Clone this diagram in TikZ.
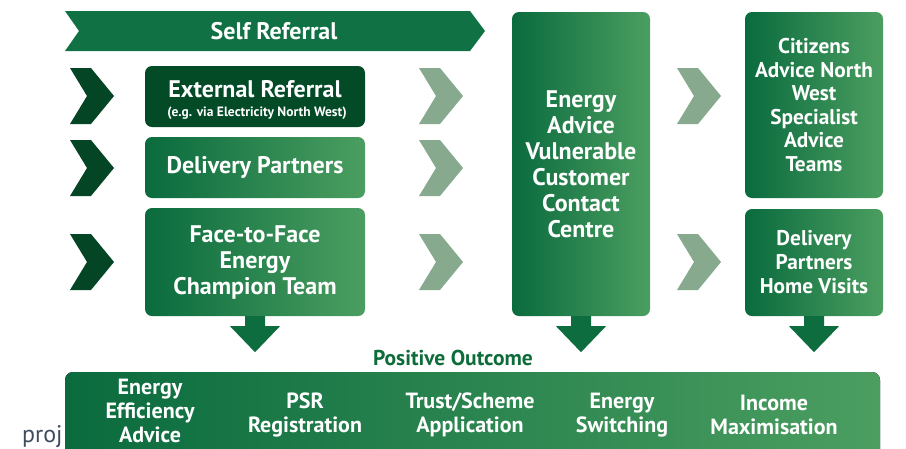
\documentclass[tikz,border=0pt]{standalone}
\usepackage{fontspec}
\setmainfont{PT Sans}
\usetikzlibrary{calc,positioning}

\definecolor{selfgreen}{HTML}{107145}
\definecolor{extgreen}{HTML}{034A26}
\definecolor{chevdark}{HTML}{034524}
\definecolor{chevlight}{HTML}{87A98D}
\definecolor{gleft}{HTML}{0A6B3E}
\definecolor{gright}{HTML}{4B9E60}
\definecolor{arrgreen}{HTML}{0D6D3F}
\definecolor{outgreen}{HTML}{0E6B3A}
\definecolor{projgrey}{HTML}{3E4C5E}

\tikzset{
  box/.style={rounded corners=7, inner sep=0pt, text=white, align=center,
    font=\bfseries\fontsize{24}{26}\selectfont},
  gradbox/.style={box, left color=gleft, right color=gright},
  smalltxt/.style={text=white, inner sep=0pt, font=\bfseries\fontsize{13.5}{15}\selectfont},
  outtxt/.style={text=white, inner sep=0pt, align=center, font=\bfseries\fontsize{22}{24}\selectfont},
  chev/.pic={\fill[#1] (0,-28) -- (21,-28) -- (44,0) -- (21,28) -- (0,28) -- (17,0) -- cycle;},
  downarr/.pic={\fill[arrgreen] (-10,0) -- (10,0) -- (10,10) -- (25,10) -- (0,36) -- (-25,10) -- (-10,10) -- cycle;}
}

\begin{document}
\begin{tikzpicture}[x=1pt,y=-1pt]
	\useasboundingbox (0,0) rectangle (906,448);
	\clip (0,0) rectangle (906,448);
	
	\fill[selfgreen] (65,11) -- (470,11) -- (485,31) -- (470,51) -- (65,51) -- (79,31) -- cycle;
	\node[box] (self) at (274,31) {Self Referral};
	
	\node[box, fill=extgreen, minimum width=220, minimum height=61] (ext) at (255,96.5) {};
	\node[box] (exttxt) at (255,89) {External Referral};
	\node[smalltxt] (extsub) at (257,113) {(e.g. via Electricity North West)};
	\node[gradbox, minimum width=220, minimum height=61] (dp) at (255,167.5) {Delivery Partners};
	\node[gradbox, minimum width=220, minimum height=108] (ftf) at (255,262) {Face-to-Face\\Energy\\Champion Team};
	
	\node[gradbox, minimum width=138, minimum height=304] (cc) at (581,164) {Energy\\Advice\\Vulnerable\\Customer\\Contact\\Centre};
	
	\node[gradbox, minimum width=138, minimum height=186, font=\bfseries\fontsize{21.3}{23.6}\selectfont] (ca) at (814,105) {Citizens\\Advice North\\West\\Specialist\\Advice\\Teams};
	\node[gradbox, minimum width=138, minimum height=107, font=\bfseries\fontsize{21.3}{24}\selectfont] (hv) at (814,262.5) {Delivery\\Partners\\Home Visits};
	
	\foreach \y in {96,168,262}{
		\pic at (70,\y) {chev=chevdark};
		\pic at (419,\y) {chev=chevlight};
	}
	\pic at (677,96) {chev=chevlight};
	\pic at (677,262) {chev=chevlight};
	
	\pic at (ftf.south) {downarr};
	\pic at (cc.south) {downarr};
	\pic at (hv.south) {downarr};
	
	\node[inner sep=0pt, anchor=west, text=projgrey, font=\fontsize{24}{28}\selectfont] (proj) at (22,437) {proj};
	
	\node[text=outgreen, inner sep=0pt, font=\bfseries\fontsize{21.5}{24}\selectfont] (pos) at (453,358) {Positive Outcome};
	\fill[left color=gleft, right color=gright, rounded corners=8] (65,372) rectangle (880,480);
	
	\node[outtxt] (eea) at (150,411) {Energy\\Efficiency\\Advice};
	\node[outtxt] (psr) at (305,415) {PSR\\Registration};
	\node[outtxt] (tsa) at (470,415) {Trust/Scheme\\Application};
	\node[outtxt] (esw) at (622,415) {Energy\\Switching};
	\node[outtxt] (inc) at (774,415) {Income\\Maximisation};
\end{tikzpicture}
\end{document}
